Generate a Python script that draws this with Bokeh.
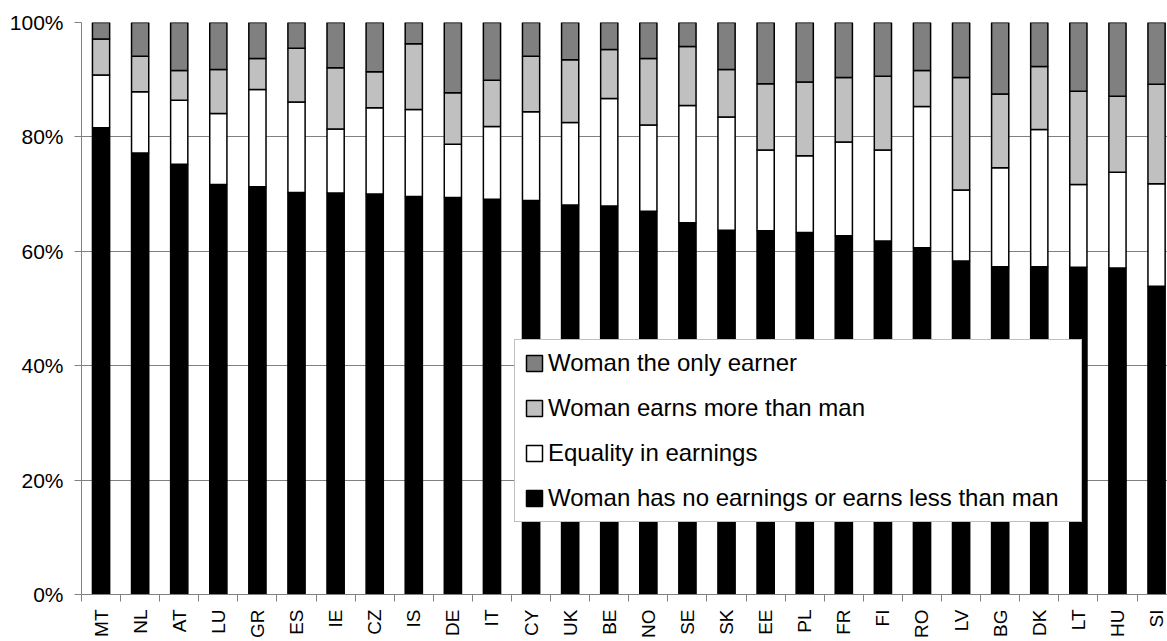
import math
from bokeh.plotting import figure
from bokeh.models import (ColumnDataSource, Range1d, FixedTicker, PrintfTickFormatter,
                          Legend, LegendItem)
from bokeh.embed import file_html
from bokeh.resources import INLINE
import numpy as np

countries = ["MT", "NL", "AT", "LU", "GR", "ES", "IE", "CZ", "IS", "DE", "IT", "CY", "UK", "BE",
             "NO", "SE", "SK", "EE", "PL", "FR", "FI", "RO", "LV", "BG", "DK", "LT", "HU", "SI"]

less_or_none = [81.6, 77.2, 75.2, 71.7, 71.3, 70.3, 70.2, 70.0, 69.6, 69.4, 69.1, 68.9, 68.1, 67.9,
                67.0, 65.0, 63.7, 63.6, 63.3, 62.7, 61.8, 60.6, 58.3, 57.3, 57.3, 57.2, 57.1, 53.9]
equality = [9.2, 10.7, 11.2, 12.4, 17.0, 15.8, 11.2, 15.1, 15.2, 9.3, 12.7, 15.5, 14.4, 18.8,
            15.1, 20.5, 19.8, 14.1, 13.4, 16.4, 15.9, 24.7, 12.4, 17.3, 24.0, 14.5, 16.7, 17.9]
earns_more = [6.3, 6.2, 5.2, 7.7, 5.4, 9.4, 10.7, 6.3, 11.5, 9.0, 8.1, 9.7, 11.0, 8.6,
              11.6, 10.3, 8.3, 11.6, 12.9, 11.3, 12.9, 6.3, 19.7, 12.9, 11.0, 16.3, 13.3, 17.4]
only_earner = [2.9, 5.9, 8.4, 8.2, 6.3, 4.5, 7.9, 8.6, 3.7, 12.3, 10.1, 5.9, 6.5, 4.7,
               6.3, 4.2, 8.2, 10.7, 10.4, 9.6, 9.4, 8.4, 9.6, 12.5, 7.7, 12.0, 12.9, 10.8]

series_names = ["Woman has no earnings or earns less than man", "Equality in earnings",
                "Woman earns more than man", "Woman the only earner"]
series_colors = ["#000000", "#FFFFFF", "#C0C0C0", "#808080"]
y_ticks = [0, 20, 40, 60, 80, 100]

n = len(countries)
centers = list(np.arange(n) + 0.5)
boundaries = list(range(n + 1))

source = ColumnDataSource(dict(x=centers, s0=less_or_none, s1=equality, s2=earns_more, s3=only_earner))

FONT = "Liberation Sans"

p = figure(width=1167, height=641, output_backend="svg", toolbar_location=None,
           x_range=Range1d(0, 27.78), y_range=Range1d(0, 100),
           min_border_left=81, min_border_top=22, min_border_bottom=47, min_border_right=0)
p.outline_line_color = None
p.background_fill_color = "white"
p.border_fill_color = "white"

renderers = p.vbar_stack(["s0", "s1", "s2", "s3"], x="x", width=0.44, source=source,
                         fill_color=series_colors, line_color="black", line_width=1.5)

# grid
p.xgrid.grid_line_color = None
p.ygrid.ticker = FixedTicker(ticks=y_ticks)
p.ygrid.grid_line_color = "#808080"
p.ygrid.grid_line_width = 1

# y axis
p.yaxis.ticker = FixedTicker(ticks=y_ticks, minor_ticks=[])
p.yaxis.formatter = PrintfTickFormatter(format="%d%%")
p.yaxis.axis_line_color = "#808080"
p.yaxis.major_tick_line_color = "#808080"
p.yaxis.major_tick_in = 0
p.yaxis.major_tick_out = 7
p.yaxis.minor_tick_line_color = None
p.yaxis.major_label_standoff = 11
p.yaxis.major_label_text_font = FONT
p.yaxis.major_label_text_font_size = "21px"
p.yaxis.major_label_text_color = "black"

# x axis
p.xaxis.ticker = FixedTicker(ticks=centers, minor_ticks=boundaries)
p.xaxis.major_label_overrides = {c: name for c, name in zip(centers, countries)}
p.xaxis.major_label_orientation = math.pi / 2
p.xaxis.axis_line_color = "#808080"
p.xaxis.major_tick_line_color = None
p.xaxis.major_tick_in = 0
p.xaxis.major_tick_out = 0
p.xaxis.minor_tick_line_color = "#808080"
p.xaxis.minor_tick_in = 0
p.xaxis.minor_tick_out = 7
p.xaxis.major_label_standoff = 8
p.xaxis.major_label_text_font = FONT
p.xaxis.major_label_text_font_size = "19px"
p.xaxis.major_label_text_color = "black"

items = [LegendItem(label=series_names[i], renderers=[renderers[i]]) for i in [3, 2, 1, 0]]
legend = Legend(items=items, location=(433, 72), orientation="vertical",
                label_text_font=FONT, label_text_font_size="24px", label_text_color="black",
                glyph_width=20, glyph_height=20, label_standoff=4, label_height=20,
                label_width=524, padding=9, spacing=17, margin=0,
                border_line_color="#808080", border_line_width=1,
                background_fill_color="white", background_fill_alpha=1.0)
p.add_layout(legend)

open("out.html", "w").write(file_html(p, INLINE))
